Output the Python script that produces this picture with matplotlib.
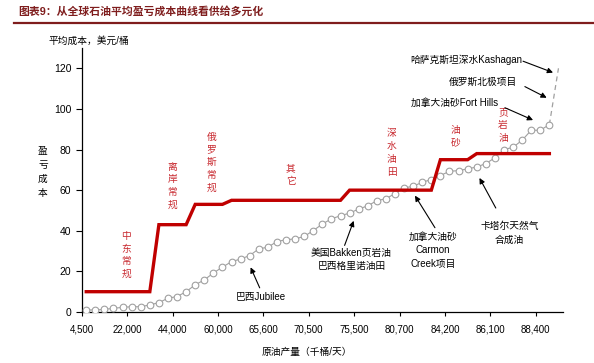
import matplotlib

matplotlib.use("Agg")

import matplotlib.pyplot as plt
import numpy as np

plt.rcParams["font.family"] = ["Liberation Sans", "Noto Sans CJK SC", "DejaVu Sans"]

# break-even cost curve (grey circles), USD/bbl, one value per category
cost_curve = [
    1.0, 1.0, 1.3, 1.8, 2.3, 2.6, 2.6, 3.5, 4.6, 6.8,
    7.6, 10.0, 13.4, 15.8, 19.2, 22.1, 24.8, 26.1, 27.8, 31.1,
    31.9, 34.7, 35.6, 36.0, 37.2, 40.1, 43.3, 45.9, 47.4, 48.7,
    50.7, 52.3, 54.8, 55.8, 58.3, 61.1, 61.9, 63.9, 65.2, 67.2,
    69.3, 69.6, 70.5, 71.4, 73.1, 75.9, 80.0, 81.1, 84.6, 89.5,
    89.5, 92.3,
]
# dashed extension to the highest-cost projects
extension = [92.3, 120.0]

# average cost by source (red step line)
avg_cost = (
    [10] * 8 + [43] * 4 + [53] * 4 + [55] * 13 + [60] * 10 + [75] * 4 + [78] * 9
)

tick_labels = [
    "4,500", "22,000", "44,000", "60,000", "65,600", "70,500",
    "75,500", "80,700", "84,200", "86,100", "88,400",
]

segment_labels = [
    ("中东常规", 4.4, 28.1),
    ("离岸常规", 9.5, 62.1),
    ("俄罗斯常规", 13.8, 73.8),
    ("其它", 22.5, 67.9),
    ("深水油田", 33.65, 78.5),
    ("油砂", 40.7, 86.6),
    ("页岩油", 45.9, 92.1),
]

RED = "#C00000"
GREY = "#A0A0A0"
LABEL_RED = "#C8282E"
TITLE_RED = "#7F1D1D"

fig = plt.figure(figsize=(5.94, 3.63), dpi=100)
ax = fig.add_axes([81.7 / 594, 1 - 312 / 363, (563 - 81.7) / 594, (312 - 48) / 363])

x_curve = np.arange(len(cost_curve))
ax.plot(x_curve, cost_curve, color=GREY, lw=0.8, marker="o", markersize=4.8,
        markerfacecolor="white", markeredgecolor=GREY, markeredgewidth=0.8, zorder=3)
x_ext = np.arange(len(cost_curve) - 1, len(cost_curve) - 1 + len(extension))
ax.plot(x_ext, extension, color=GREY, lw=0.9, ls=(0, (4, 3)), zorder=2)
ax.plot(np.arange(len(avg_cost)), avg_cost, color=RED, lw=2.4,
        solid_joinstyle="miter", zorder=4)

ax.set_xlim(-0.5, 52.5)
ax.set_ylim(0, 130)
ax.set_xticks(np.arange(len(tick_labels)) * 5 - 0.5)
ax.set_xticklabels(tick_labels, fontsize=7)
ax.set_yticks(np.arange(0, 121, 20))
ax.tick_params(axis="y", labelsize=7.5, length=4, width=0.8, direction="out")
ax.tick_params(axis="x", length=3, width=0.8, direction="out", pad=6)
for side in ("top", "right"):
    ax.spines[side].set_visible(False)
for side in ("left", "bottom"):
    ax.spines[side].set_linewidth(0.9)

for text, x, y in segment_labels:
    ax.text(x, y, "\n".join(text), color=LABEL_RED, fontsize=7, ha="center",
            va="center", linespacing=1.35)

arrow = dict(arrowstyle="-|>", color="black", lw=0.8, mutation_scale=8,
             shrinkA=0, shrinkB=0)

# annotations below the curve: (text, text pos, arrow tail, arrow head)
callouts = [
    ("巴西Jubilee", (19.25, 7.2), (19.1, 11.9), (18.1, 22.0)),
    ("美国Bakken页岩油\n巴西格里诺油田", (29.2, 25.8), (28.45, 32.8), (29.45, 44.9)),
    ("加拿大油砂\nCarmon\nCreek项目", (38.2, 30.4), (38.4, 41.5), (36.2, 57.3)),
    ("卡塔尔天然气\n合成油", (46.6, 39.0), (45.1, 51.2), (43.3, 66.0)),
]
for text, pos, tail, head in callouts:
    ax.text(pos[0], pos[1], text, fontsize=7, ha="center", va="center",
            linespacing=1.45)
    ax.annotate("", xy=head, xytext=tail, arrowprops=arrow)

# annotations above the curve, right-aligned
top_callouts = [
    ("哈萨克斯坦深水Kashagan", (48.0, 124.0), (48.1, 123.5), (51.4, 117.9)),
    ("俄罗斯北极项目", (47.4, 113.2), (48.3, 111.0), (50.7, 105.5)),
    ("加拿大油砂Fort Hills", (45.4, 103.1), (46.1, 100.6), (49.2, 94.5)),
]
for text, pos, tail, head in top_callouts:
    ax.text(pos[0], pos[1], text, fontsize=7, ha="right", va="center")
    ax.annotate("", xy=head, xytext=tail, arrowprops=arrow)

fig.text(89 / 594, 1 - 41 / 363, "平均成本，美元/桶", fontsize=7, ha="center", va="center")
fig.text(43 / 594, 1 - 172 / 363, "\n".join("盈亏成本"), fontsize=7, ha="center",
         va="center", linespacing=1.5)
fig.text(307 / 594, 1 - 352 / 363, "原油产量（千桶/天）", fontsize=7, ha="center", va="center")

fig.text(18 / 594, 1 - 11 / 363, "图表9：从全球石油平均盈亏成本曲线看供给多元化",
         fontsize=7.8, fontweight="bold", color=TITLE_RED, ha="left", va="center")
fig.add_artist(plt.Line2D([14 / 594, 1.0], [1 - 22.5 / 363] * 2, color=TITLE_RED, lw=1.6))

fig.savefig("out.png", dpi=100)
